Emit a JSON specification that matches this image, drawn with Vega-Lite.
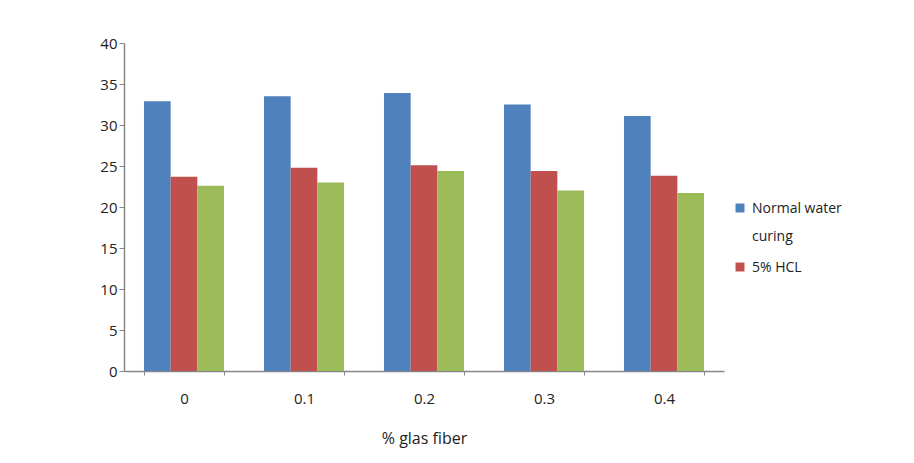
{
  "$schema": "https://vega.github.io/schema/vega-lite/v6.json",
  "autosize": "none",
  "width": 600,
  "height": 328,
  "padding": {"left": 124, "top": 43, "right": 190, "bottom": 92},
  "background": "white",
  "config": {
    "view": {"stroke": null},
    "font": "Open Sans",
    "axis": {"labelFont": "Open Sans", "titleFont": "Open Sans", "labelColor": "#222", "titleColor": "#222", "domainColor": "#868686", "tickColor": "#868686", "grid": false}
  },
  "data": {
    "values": [
      {"fiber": "0", "series": "Normal water curing", "value": 32.9},
      {"fiber": "0", "series": "5% HCL", "value": 23.7},
      {"fiber": "0", "series": "Series 3", "value": 22.6},
      {"fiber": "0.1", "series": "Normal water curing", "value": 33.5},
      {"fiber": "0.1", "series": "5% HCL", "value": 24.8},
      {"fiber": "0.1", "series": "Series 3", "value": 23.0},
      {"fiber": "0.2", "series": "Normal water curing", "value": 33.9},
      {"fiber": "0.2", "series": "5% HCL", "value": 25.1},
      {"fiber": "0.2", "series": "Series 3", "value": 24.4},
      {"fiber": "0.3", "series": "Normal water curing", "value": 32.5},
      {"fiber": "0.3", "series": "5% HCL", "value": 24.4},
      {"fiber": "0.3", "series": "Series 3", "value": 22.0},
      {"fiber": "0.4", "series": "Normal water curing", "value": 31.1},
      {"fiber": "0.4", "series": "5% HCL", "value": 23.8},
      {"fiber": "0.4", "series": "Series 3", "value": 21.7}
    ]
  },
  "mark": {"type": "bar"},
  "encoding": {
    "x": {
      "field": "fiber", "type": "nominal", "sort": ["0", "0.1", "0.2", "0.3", "0.4"],
      "scale": {"paddingInner": 0.333, "paddingOuter": 0.1665},
      "axis": {"title": "% glas fiber", "labelAngle": 0, "labelFontSize": 15, "labelPadding": 16, "titleFontSize": 16, "titleFontWeight": "normal", "titlePadding": 24, "tickBand": "extent", "tickSize": 4, "domainWidth": 1.5}
    },
    "xOffset": {"field": "series", "type": "nominal", "sort": ["Normal water curing", "5% HCL", "Series 3"]},
    "y": {
      "field": "value", "type": "quantitative",
      "scale": {"domain": [0, 40]},
      "axis": {"title": null, "values": [0, 5, 10, 15, 20, 25, 30, 35, 40], "labelFontSize": 15, "tickSize": 5, "labelPadding": 2, "domainWidth": 1.5}
    },
    "color": {
      "field": "series", "type": "nominal",
      "scale": {"domain": ["Normal water curing", "5% HCL", "Series 3"], "range": ["#4F81BD", "#C0504D", "#9BBB59"]},
      "legend": {
        "title": null, "orient": "none", "legendX": 609, "legendY": 158,
        "values": ["Normal water curing", "5% HCL"],
        "symbolType": "square", "symbolSize": 80, "labelFontSize": 14, "labelColor": "#222",
        "labelExpr": "datum.label == 'Normal water curing' ? ['Normal water', 'curing'] : datum.label",
        "rowPadding": 16, "labelOffset": 5, "symbolStrokeWidth": 0,
        "labelBaseline": "alphabetic",
        "encode": {"labels": {"update": {"lineHeight": {"value": 28}, "dy": {"value": 5}}}}
      }
    }
  }
}
